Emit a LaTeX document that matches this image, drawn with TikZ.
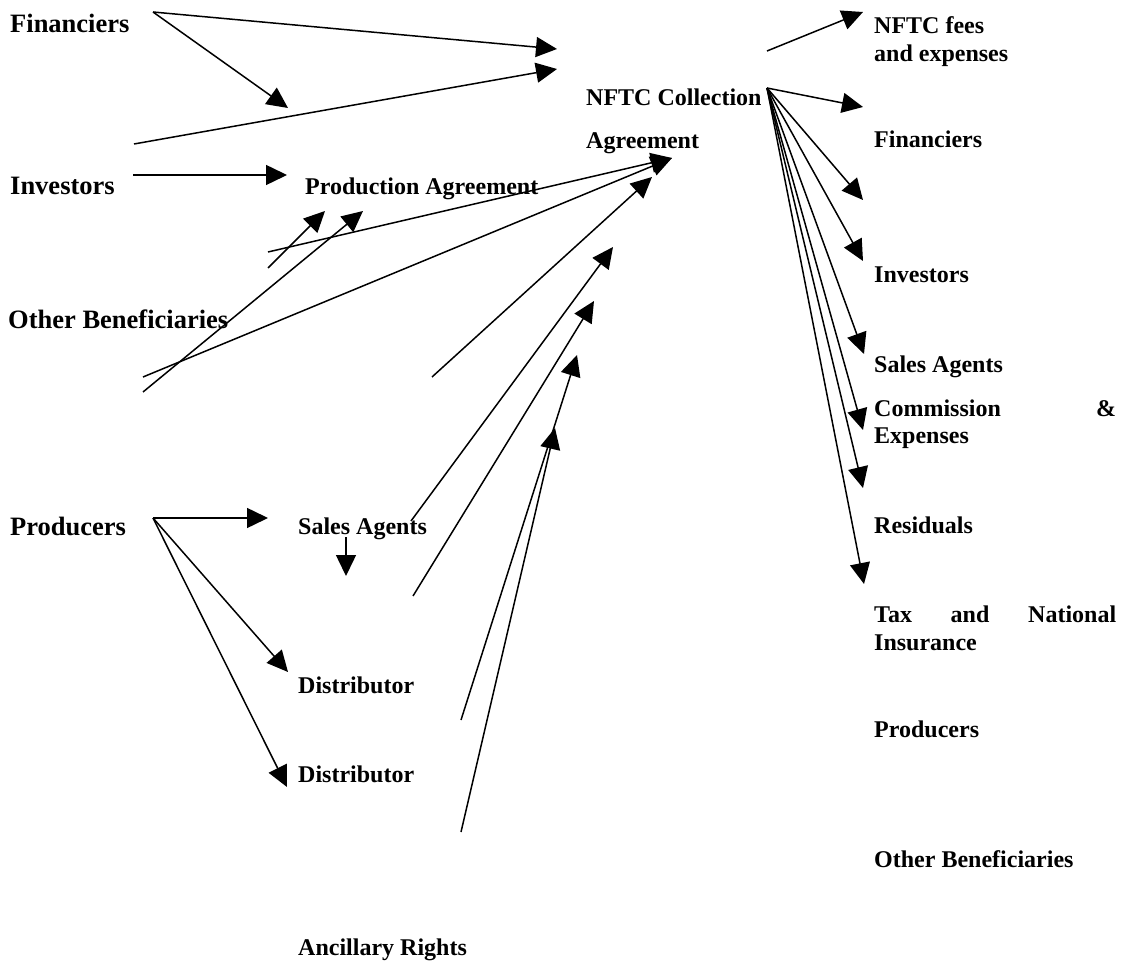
\documentclass[tikz,border=0pt]{standalone}
\usepackage{fontspec}
\setmainfont{Liberation Serif}
\usetikzlibrary{arrows.meta}
\begin{document}
\begin{tikzpicture}[x=1pt,y=-1pt,
  lbl/.style={anchor=base west,inner sep=0pt,font=\bfseries\fontsize{24}{28}\selectfont},
  big/.style={anchor=base west,inner sep=0pt,font=\bfseries\fontsize{26.5}{30}\selectfont},
  conn/.style={line width=1.5pt,-{Triangle[length=21pt,width=20pt]}},
  plainline/.style={line width=1.5pt}]
\useasboundingbox (0,0) rectangle (1130,965);
% ---- labels ----
\node[big] (finL) at (10,33) {Financiers};
\node[big] (invL) at (10,195) {Investors};
\node[big] (obL) at (8,329) {Other Beneficiaries};
\node[big] (prodL) at (10,535) {Producers};
\node[lbl] (pa) at (305,195) {Production Agreement};
\node[lbl] (nftc) at (586,106) {\vtop{\baselineskip=43pt\hbox{NFTC Collection}\hbox{Agreement}}};
\node[lbl] (fees) at (874,34) {\vtop{\baselineskip=28pt\hbox{NFTC fees}\hbox{and expenses}}};
\node[lbl] (finR) at (874,148) {Financiers};
\node[lbl] (invR) at (874,283) {Investors};
\node[lbl] (saR) at (874,373) {Sales Agents};
\node[lbl] (comR) at (874,417) {\vtop{\baselineskip=27pt\hbox to 242pt{Commission\hfill\&}\hbox{Expenses}}};
\node[lbl] (resR) at (874,533) {Residuals};
\node[lbl] (taxR) at (874,622) {\vtop{\baselineskip=28pt\hbox to 242pt{Tax\hfill and\hfill National}\hbox{Insurance}}};
\node[lbl] (prodR) at (874,737) {Producers};
\node[lbl] (obR) at (874,867) {Other Beneficiaries};
\node[lbl] (saM) at (298,534) {Sales Agents};
\node[lbl] (dist1) at (298,693) {Distributor};
\node[lbl] (dist2) at (298,782) {Distributor};
\node[lbl] (anc) at (298,955) {Ancillary Rights};
% ---- connector end points ----
\coordinate (fA) at (153,12);
\coordinate (t1) at (557,49);
\coordinate (t2) at (557,69);
\coordinate (fD) at (288,108);
\coordinate (s0) at (134,144);
\coordinate (i0) at (133,175);
\coordinate (i1) at (287,175);
\coordinate (pa1) at (268,252);
\coordinate (ob1) at (143,377);
\coordinate (ag1) at (672,158);
\coordinate (pa2) at (268,268);
\coordinate (pt1) at (325,211);
\coordinate (ob2) at (143,392);
\coordinate (pt2) at (363,211);
\coordinate (m1) at (432,377);
\coordinate (m1t) at (652,177);
\coordinate (m2) at (411,521);
\coordinate (m2t) at (613,247);
\coordinate (m3) at (413,596);
\coordinate (m3t) at (594,301);
\coordinate (m4) at (461,720);
\coordinate (m4t) at (577,355);
\coordinate (m5) at (461,832);
\coordinate (m5t) at (555,428);
\coordinate (p0) at (153,518);
\coordinate (p1) at (268,518);
\coordinate (p2) at (288,672);
\coordinate (p3) at (287,787);
\coordinate (sd0) at (346,537);
\coordinate (sd1) at (346,576);
\coordinate (fe0) at (767,51);
\coordinate (fe1) at (863,12);
\coordinate (o) at (767,88);
\coordinate (r1) at (863,107);
\coordinate (r2) at (863,200);
\coordinate (r3) at (863,261);
\coordinate (r4) at (864,354);
\coordinate (r5) at (863,430);
\coordinate (r6) at (863,488);
\coordinate (r7) at (864,584);
% ---- connectors ----
\draw[conn] (fA) -- (t1);
\draw[conn] (fA) -- (fD);
\draw[conn] (s0) -- (t2);
\draw[conn] (i0) -- (i1);
\draw[conn] (pa1) -- (ag1);
\draw[conn] (ob1) -- (ag1);
\draw[conn] (pa2) -- (pt1);
\draw[conn] (ob2) -- (pt2);
\draw[conn] (m1) -- (m1t);
\draw[conn] (m2) -- (m2t);
\draw[conn] (m3) -- (m3t);
\draw[conn] (m4) -- (m4t);
\draw[conn] (m5) -- (m5t);
\draw[conn] (p0) -- (p1);
\draw[conn] (p0) -- (p2);
\draw[conn] (p0) -- (p3);
\draw[conn] (sd0) -- (sd1);
\draw[conn] (fe0) -- (fe1);
\foreach \t in {r1,r2,r3,r4,r5,r6,r7}
  \draw[conn] (o) -- (\t);
\end{tikzpicture}
\end{document}
